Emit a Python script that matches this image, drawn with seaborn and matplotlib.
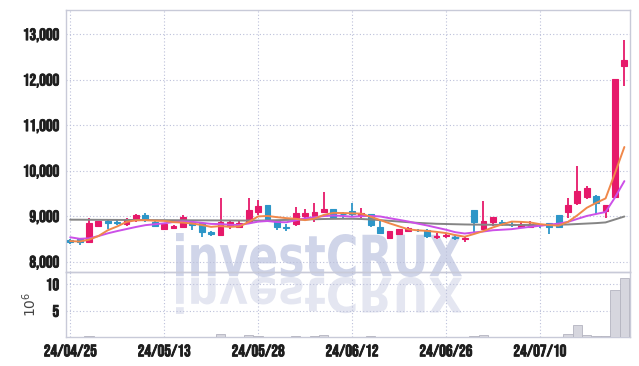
import numpy as np
import pandas as pd
import matplotlib
matplotlib.use("Agg")
import matplotlib.pyplot as plt
import matplotlib.patheffects as pe
import seaborn as sns
from matplotlib.textpath import TextPath
from matplotlib.patches import PathPatch
from matplotlib.font_manager import FontProperties
from matplotlib.transforms import Affine2D

dates = ["24/04/25", "24/04/26", "24/04/29", "24/04/30", "24/05/02", "24/05/03", "24/05/07", "24/05/08",
         "24/05/09", "24/05/10", "24/05/13", "24/05/14", "24/05/16", "24/05/17", "24/05/20", "24/05/21",
         "24/05/22", "24/05/23", "24/05/24", "24/05/27", "24/05/28", "24/05/29", "24/05/30", "24/05/31",
         "24/06/03", "24/06/04", "24/06/05", "24/06/07", "24/06/10", "24/06/11", "24/06/12", "24/06/13",
         "24/06/14", "24/06/17", "24/06/18", "24/06/19", "24/06/20", "24/06/21", "24/06/24", "24/06/25",
         "24/06/26", "24/06/27", "24/06/28", "24/07/01", "24/07/02", "24/07/03", "24/07/04", "24/07/05",
         "24/07/08", "24/07/09", "24/07/10", "24/07/11", "24/07/12", "24/07/15", "24/07/16", "24/07/17",
         "24/07/18", "24/07/19", "24/07/22", "24/07/23"]

opens = [8470, 8490, 8420, 8780, 8890, 8870, 8820, 8910, 9015, 8860,
         8720, 8730, 8770, 8870, 8840, 8640, 8580, 8790, 8770, 8870,
         9080, 9240, 8900, 8760, 8830, 9000, 9000, 9090, 9150, 9050,
         9110, 9020, 9040, 8770, 8525, 8600, 8680, 8700, 8700, 8530,
         8570, 8530, 8490, 9130, 8710, 8860, 8860, 8830, 8770, 8760,
         8810, 8840, 9020, 9090, 9290, 9420, 9450, 9120, 9420, 12300]
highs = [8500, 8520, 8950, 8900, 8920, 8920, 8950, 9040, 9070, 8900,
         8830, 8800, 9030, 8920, 8850, 8680, 9390, 8900, 8920, 9390,
         9350, 9250, 8910, 8820, 9200, 9160, 9290, 9520, 9160, 9090,
         9290, 9180, 9050, 8910, 8680, 8720, 8760, 8720, 8710, 8620,
         8620, 8580, 8540, 9130, 9330, 8990, 8910, 8890, 8870, 8900,
         8830, 8850, 9020, 9390, 10100, 9660, 9460, 9250, 12020, 12870]
lows = [8380, 8370, 8410, 8750, 8720, 8800, 8790, 8870, 8880, 8750,
        8710, 8720, 8760, 8700, 8550, 8560, 8570, 8720, 8730, 8840,
        9020, 8900, 8700, 8670, 8780, 8930, 8880, 9060, 8930, 8930,
        8990, 8960, 8770, 8600, 8520, 8590, 8640, 8640, 8520, 8490,
        8520, 8470, 8440, 8620, 8700, 8790, 8780, 8770, 8730, 8740,
        8730, 8600, 8750, 8950, 9240, 9380, 9040, 8950, 9420, 11870]
closes = [8420, 8430, 8850, 8890, 8850, 8840, 8930, 9020, 8910, 8790,
          8820, 8790, 8970, 8800, 8640, 8610, 8880, 8880, 8850, 9130,
          9220, 8930, 8750, 8740, 9060, 9070, 9100, 9150, 8970, 9040,
          9040, 9060, 8800, 8620, 8680, 8710, 8730, 8690, 8560, 8570,
          8580, 8510, 8510, 8860, 8890, 8980, 8850, 8810, 8830, 8820,
          8800, 8750, 8750, 9240, 9550, 9620, 9290, 9240, 12020, 12420]
volumes = [0.05, 0.05, 0.2, 0.05, 0.05, 0.05, 0.05, 0.05, 0.05, 0.05,
           0.05, 0.05, 0.05, 0.05, 0.05, 0.05, 0.64, 0.05, 0.05, 0.4,
           0.2, 0.05, 0.05, 0.05, 0.2, 0.05, 0.2, 0.4, 0.05, 0.05,
           0.05, 0.05, 0.2, 0.05, 0.05, 0.05, 0.05, 0.05, 0.05, 0.05,
           0.05, 0.05, 0.05, 0.2, 0.4, 0.05, 0.05, 0.05, 0.05, 0.05,
           0.05, 0.05, 0.05, 0.64, 2.27, 0.4, 0.2, 0.2, 9.0, 11.1]
ma5 = [8450, 8440, 8480, 8560, 8688, 8772, 8872, 8906, 8910, 8898,
       8894, 8866, 8856, 8834, 8804, 8762, 8780, 8762, 8772, 8870,
       8992, 9002, 8976, 8954, 8940, 8910, 8944, 9024, 9070, 9066,
       9060, 9052, 8982, 8912, 8840, 8774, 8708, 8686, 8674, 8652,
       8626, 8582, 8546, 8606, 8670, 8750, 8818, 8878, 8872, 8858,
       8822, 8802, 8790, 8872, 9018, 9182, 9290, 9388, 9944, 10518]
ma10 = [8534, 8500, 8510, 8560, 8620, 8670, 8715, 8760, 8800, 8820,
        8840, 8869, 8881, 8872, 8851, 8828, 8823, 8809, 8803, 8837,
        8877, 8891, 8869, 8863, 8905, 8951, 8973, 9000, 9012, 9003,
        8985, 8998, 9003, 8991, 8953, 8917, 8880, 8834, 8793, 8746,
        8700, 8645, 8616, 8640, 8661, 8688, 8700, 8712, 8739, 8764,
        8786, 8810, 8834, 8872, 8938, 9002, 9046, 9089, 9408, 9768]
ma60 = [8920, 8920, 8918, 8917, 8916, 8915, 8914, 8913, 8912, 8911,
        8910, 8909, 8908, 8907, 8906, 8905, 8904, 8903, 8902, 8901,
        8900, 8905, 8910, 8915, 8920, 8925, 8930, 8935, 8938, 8940,
        8940, 8935, 8925, 8910, 8895, 8880, 8865, 8850, 8840, 8830,
        8825, 8820, 8815, 8812, 8810, 8808, 8806, 8805, 8804, 8803,
        8802, 8805, 8810, 8815, 8825, 8835, 8845, 8860, 8925, 8990]

tick_pos = [0, 10, 20, 30, 40, 50]
tick_labels = [dates[i] for i in tick_pos]
price_ticks = [8000, 9000, 10000, 11000, 12000, 13000]
vol_ticks = [5, 10]

UP = "#e6196a"
DOWN = "#2d96c8"
GRID = "#bcc0da"
SPINE = "#c8cad8"
TXT = "#1e1e1e"

sns.set_theme(style="white")
plt.rcParams['font.family'] = ['Bebas Neue', 'DejaVu Sans']

W, H = 639, 366
fig = plt.figure(figsize=(W / 100, H / 100), dpi=100)
fig.patch.set_facecolor("white")
left, right = 66 / W, 630 / W
ax = fig.add_axes([left, 1 - 272 / H, right - left, (272 - 10) / H])
axv = fig.add_axes([left, 1 - 337.4 / H, right - left, (337.4 - 272) / H])
for a in (ax, axv):
    a.set_facecolor("none")

df = pd.DataFrame({"i": np.arange(len(dates)), "date": dates, "open": opens, "high": highs,
                   "low": lows, "close": closes, "vol": volumes,
                   "ma5": ma5, "ma10": ma10, "ma60": ma60})
colors = [UP if c >= o else DOWN for o, c in zip(df["open"], df["close"])]

# watermark (behind axes)
fp = FontProperties(family="DejaVu Sans", weight="bold")
tp = TextPath((0, 0), "investCRUX", size=1, prop=fp)
bb = tp.get_extents()
x0, x1 = 176 / W, 462 / W
t_top, t_bot = 1 - 233 / H, 1 - 277 / H
tr = Affine2D().translate(-bb.x0, -bb.y0).scale((x1 - x0) / bb.width, (t_top - t_bot) / bb.height).translate(x0, t_bot)
fig.patches.append(PathPatch(tp, transform=tr + fig.transFigure, facecolor="#d0d5e9", edgecolor="none", zorder=-5))
r_top, r_bot = 1 - 277 / H, 1 - 314 / H
tr2 = Affine2D().translate(-bb.x0, -bb.y0).scale((x1 - x0) / bb.width, -(r_top - r_bot) / bb.height).translate(x0, r_top)
fig.patches.append(PathPatch(tp, transform=tr2 + fig.transFigure, facecolor="#e4e6f1", edgecolor="none", zorder=-5))

# candles
ax.vlines(df["i"], df["low"], df["high"], colors=colors, lw=1.3, zorder=3)
body_bottom = np.minimum(df["open"], df["close"])
body_h = np.abs(df["close"] - df["open"])
ax.bar(df["i"], body_h, bottom=body_bottom, width=0.62, color=colors, edgecolor=colors, linewidth=0.8, zorder=4)

# moving averages
sns.lineplot(data=df, x="i", y="ma60", ax=ax, color="#858585", lw=1.4, zorder=5)
sns.lineplot(data=df, x="i", y="ma10", ax=ax, color="#cc50e8", lw=1.4, zorder=6)
sns.lineplot(data=df, x="i", y="ma5", ax=ax, color="#f0884a", lw=1.4, zorder=7)

# volume
sns.barplot(data=df, x="i", y="vol", ax=axv, native_scale=True, color="#d6d6de",
            edgecolor="#b4b4c0", linewidth=0.6, width=0.98, saturation=1, zorder=3)

ax.set_xlim(-0.45, 59.6)
axv.set_xlim(-0.45, 59.6)
ax.set_ylim(7770, 13530)
axv.set_ylim(0, 12.3)

ax.set_xticks(tick_pos)
ax.set_xticklabels([])
ax.set_yticks(price_ticks)
ax.set_yticklabels([f"{v:,}" for v in price_ticks])
axv.set_xticks(tick_pos)
axv.set_xticklabels(tick_labels)
axv.set_yticks(vol_ticks)
axv.set_yticklabels([str(v) for v in vol_ticks])

bold = [pe.withStroke(linewidth=0.6, foreground=TXT)]
for a in (ax, axv):
    a.grid(True, linestyle=(0, (1, 2)), color=GRID, lw=0.8, zorder=0)
    a.set_axisbelow(True)
    a.set_xlabel("")
    a.set_ylabel("")
    a.tick_params(length=0, labelsize=12, labelcolor=TXT, pad=5)
    for s in a.spines.values():
        s.set_color(SPINE)
        s.set_linewidth(1.0)
    for lab in a.get_xticklabels() + a.get_yticklabels():
        lab.set_path_effects(bold)

axv.set_ylabel(r"$10^6$", fontsize=10, color="#444444", family="DejaVu Sans")
axv.yaxis.set_label_coords(-0.048, 0.5)

fig.savefig("out.png", dpi=100, facecolor="white")
